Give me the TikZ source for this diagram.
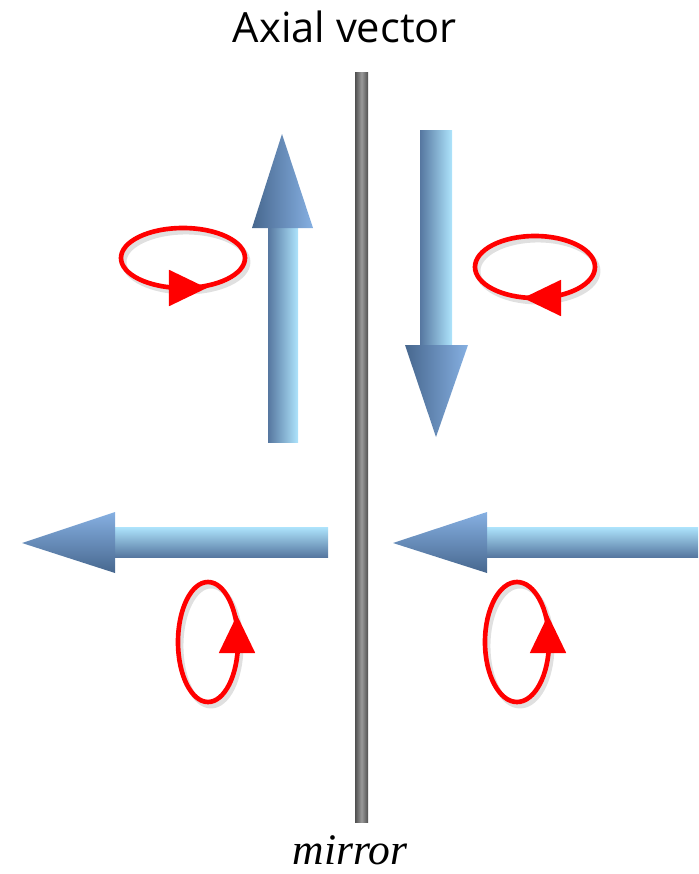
\documentclass[tikz,border=0pt]{standalone}
\usepackage{fontspec}
\usepackage{tikz}
\usetikzlibrary{arrows.meta, calc, positioning}
\newfontfamily\titlefont{Open Sans}
\newfontfamily\labelfont{Liberation Serif}

\definecolor{shaftlight}{HTML}{AEE4FC}
\definecolor{shaftdark}{HTML}{5677A0}
\definecolor{headlight}{HTML}{86B0E2}
\definecolor{headdark}{HTML}{47678E}
\definecolor{spinred}{HTML}{FF0000}
\definecolor{mirrordark}{HTML}{505050}
\definecolor{mirrorlight}{HTML}{9A9A9A}

\begin{document}
\begin{tikzpicture}[x=0.025cm, y=-0.025cm,
    shaftv/.style={left color=shaftdark, right color=shaftlight},
    shafth/.style={top color=shaftlight, bottom color=shaftdark},
    headv/.style={left color=headdark, right color=headlight},
    headh/.style={top color=headlight, bottom color=headdark},
    spin/.style={draw=spinred, line width=3.3pt},
    spinshadow/.style={draw=black!12, line width=3.5pt},
    spintip/.style={spinred, line width=3.3pt, -{Triangle[length=0.95cm, width=0.88cm]}}]
   \useasboundingbox (0,0) rectangle (698,874);

   % mirror plane
   \shade[left color=mirrordark, right color=mirrordark, middle color=mirrorlight]
      (355,73) rectangle (368,822);
   \node[anchor=base, inner sep=1pt, font=\labelfont\itshape\fontsize{31}{36}\selectfont] (mirrorlabel) at (350,864) {mirror};
   \node[anchor=base, font=\titlefont\fontsize{29.6}{34}\selectfont] (title) at (345,43) {Axial vector};

   % spin centres
   \coordinate (spinA) at (183,258);
   \coordinate (spinB) at (535,267);
   \coordinate (spinC) at (208,642);
   \coordinate (spinD) at (517,642);

   % upper left: arrow up
   \shade[shaftv] (268,228) rectangle (298,442);
   \shade[headv] (252,228) -- (313,228) -- (282,134) -- cycle;
   % upper right: arrow down
   \shade[shaftv] (420,130) rectangle (452,345);
   \shade[headv] (405,345) -- (468,345) -- (436,437) -- cycle;
   % lower left: arrow to the left
   \shade[shafth] (115,527) rectangle (328,557);
   \shade[headh] (115,512) -- (115,573) -- (22,543) -- cycle;
   % lower right: arrow to the left
   \shade[shafth] (487,527) rectangle (698,557);
   \shade[headh] (487,512) -- (487,573) -- (393,543) -- cycle;

   % rotation sense
   \foreach \c/\rx/\ry in {spinA/62/30, spinB/60/31, spinC/30/60, spinD/32/60} {
      \draw[spinshadow] ($(\c)+(3,4)$) ellipse [x radius=\rx, y radius=\ry];
      \draw[spin] (\c) ellipse [x radius=\rx, y radius=\ry];
   }
   \draw[spintip] ($(spinA)+(0,30)$) -- ($(spinA)+(24,30)$);
   \draw[spintip] ($(spinB)+(10,31)$) -- ($(spinB)+(-12,31)$);
   \draw[spintip] ($(spinC)+(29,12)$) -- ($(spinC)+(29,-27)$);
   \draw[spintip] ($(spinD)+(31,14)$) -- ($(spinD)+(31,-27)$);
\end{tikzpicture}
\end{document}
